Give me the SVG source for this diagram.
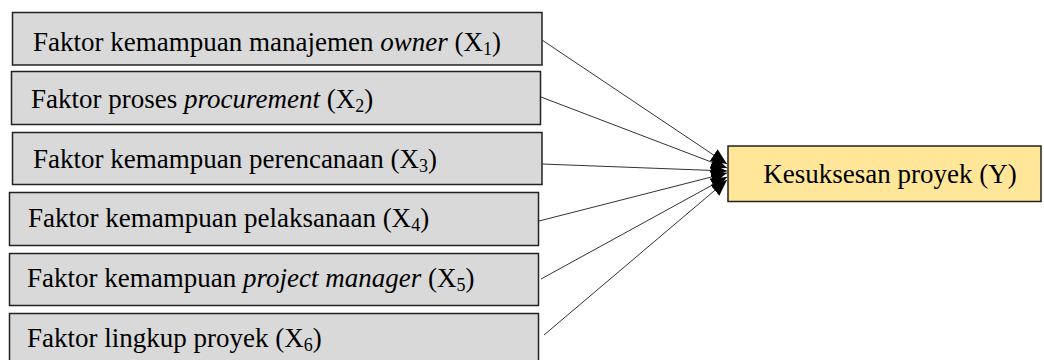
<svg xmlns="http://www.w3.org/2000/svg" width="1044" height="360" viewBox="0 0 1044 360">
  <defs>
    <marker id="arrow" markerUnits="userSpaceOnUse" markerWidth="16" markerHeight="14" refX="16" refY="7" orient="auto">
      <path d="M0,0 L16,7 L0,14 z" fill="#000"/>
    </marker>
    <style>
      .factor { fill: #d9d9d9; stroke: #222; stroke-width: 1.5; }
      .target { fill: #ffe699; stroke: #222; stroke-width: 1.5; }
      .label { font-size: 27px; fill: #000; }
      .sub { font-size: 18px; }
      .link { stroke: #333; stroke-width: 1; fill: none; marker-end: url(#arrow); }
    </style>
  </defs>
  <rect width="1044" height="360" fill="#fff"/>

  <g font-family="'Liberation Serif', 'Times New Roman', serif">
    <g id="x1">
      <rect class="factor" x="12.5" y="12.5" width="529.5" height="52.5"/>
      <text class="label" x="33" y="51">Faktor kemampuan manajemen <tspan font-style="italic">owner</tspan> (X<tspan class="sub" dy="4">1</tspan><tspan dy="-4">)</tspan></text>
    </g>
    <g id="x2">
      <rect class="factor" x="11.5" y="71.5" width="529" height="53"/>
      <text class="label" x="31" y="108">Faktor proses <tspan font-style="italic">procurement</tspan> (X<tspan class="sub" dy="4">2</tspan><tspan dy="-4">)</tspan></text>
    </g>
    <g id="x3">
      <rect class="factor" x="12.5" y="132.5" width="529.5" height="52"/>
      <text class="label" x="33" y="168">Faktor kemampuan perencanaan (X<tspan class="sub" dy="4">3</tspan><tspan dy="-4">)</tspan></text>
    </g>
    <g id="x4">
      <rect class="factor" x="9.5" y="192.5" width="529" height="53"/>
      <text class="label" x="28" y="227">Faktor kemampuan pelaksanaan (X<tspan class="sub" dy="4">4</tspan><tspan dy="-4">)</tspan></text>
    </g>
    <g id="x5">
      <rect class="factor" x="9.5" y="253.5" width="529" height="52"/>
      <text class="label" x="27" y="287">Faktor kemampuan <tspan font-style="italic">project manager</tspan> (X<tspan class="sub" dy="4">5</tspan><tspan dy="-4">)</tspan></text>
    </g>
    <g id="x6">
      <rect class="factor" x="9.5" y="313.5" width="529" height="60"/>
      <text class="label" x="27" y="347">Faktor lingkup proyek (X<tspan class="sub" dy="4">6</tspan><tspan dy="-4">)</tspan></text>
    </g>

    <g id="y">
      <rect class="target" x="728" y="146" width="313" height="55.5"/>
      <text class="label" x="890" y="183" text-anchor="middle">Kesuksesan proyek (Y)</text>
    </g>
  </g>

  <g id="connectors">
    <line class="link" x1="542" y1="40" x2="727" y2="164"/>
    <line class="link" x1="541" y1="97" x2="727" y2="168"/>
    <line class="link" x1="542" y1="164" x2="727" y2="171"/>
    <line class="link" x1="539" y1="221" x2="727" y2="173"/>
    <line class="link" x1="541" y1="279" x2="727" y2="177"/>
    <line class="link" x1="544" y1="335" x2="727" y2="180"/>
  </g>
</svg>
